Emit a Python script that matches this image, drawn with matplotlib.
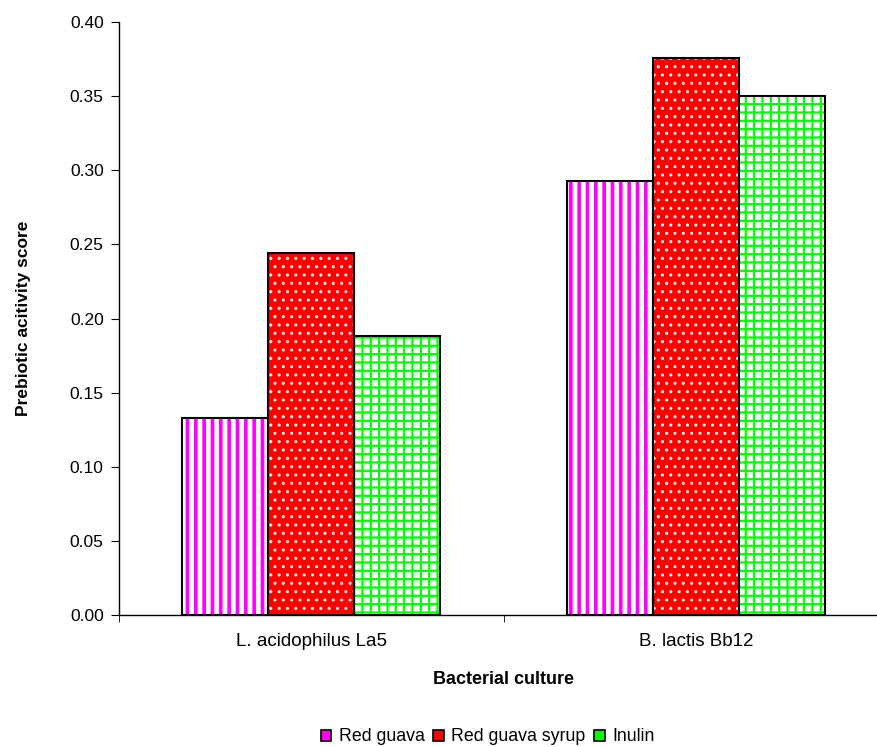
import matplotlib
matplotlib.use('Agg')
import matplotlib.pyplot as plt
from matplotlib.patches import Patch
import numpy as np

plt.rcParams['font.family'] = ['Liberation Sans', 'DejaVu Sans']

cultures = ['L. acidophilus La5', 'B. lactis Bb12']
series = ['Red guava', 'Red guava syrup', 'Inulin']
red_guava = [0.133, 0.293]
red_guava_syrup = [0.244, 0.376]
inulin = [0.188, 0.350]
yticks = [0.00, 0.05, 0.10, 0.15, 0.20, 0.25, 0.30, 0.35, 0.40]

# fill colour, hatch, hatch colour, hatch linewidth, legend colour
styles = [
    ('white', '||', '#ff00ff', 2.6, '#ff00ff'),
    ('#ff0000', '..', 'white', 1.0, '#ff0000'),
    ('white', '++', '#00ff00', 1.6, '#00ff00'),
]

fig = plt.figure(figsize=(8.77, 7.47), dpi=100)
ax = fig.add_axes([0.1357, 0.1767, 0.877, 0.7938])

x = np.arange(len(cultures))
w = 0.2237
for i, (vals, (fc, hatch, hc, hlw, _)) in enumerate(
        zip([red_guava, red_guava_syrup, inulin], styles)):
    pos = x + (i - 1) * w
    with plt.rc_context({'hatch.linewidth': hlw}):
        ax.bar(pos, vals, w, color=fc, hatch=hatch, edgecolor=hc, linewidth=0)
    ax.bar(pos, vals, w, fill=False, edgecolor='black', linewidth=1.5)

ax.set_xlim(-0.5, 1.5)
ax.set_ylim(0, 0.40)
ax.set_yticks(yticks)
ax.set_yticklabels([f'{v:.2f}' for v in yticks])
ax.set_xticks(x)
ax.set_xticklabels(cultures)
ax.set_xticks([-0.5, 0.5, 1.5], minor=True)
ax.tick_params(axis='x', which='major', length=0, pad=13, labelsize=13.5)
ax.tick_params(axis='x', which='minor', length=5, direction='out')
ax.tick_params(axis='y', length=6, direction='out', labelsize=12.5, pad=5)

for s in ('top', 'right'):
    ax.spines[s].set_visible(False)
for s in ('left', 'bottom'):
    ax.spines[s].set_linewidth(1.0)

ax.set_xlabel('Bacterial culture', fontweight='bold', fontsize=13, labelpad=15)
ax.set_ylabel('Prebiotic acitivity score', fontweight='bold', fontsize=12.5,
              labelpad=28)

handles = [Patch(facecolor=lc, edgecolor='black', linewidth=1.2)
           for fc, hatch, hc, hlw, lc in styles]
fig.legend(handles, series, loc='center', bbox_to_anchor=(0.556, 0.0134),
           ncol=3, frameon=False, fontsize=12.8, handlelength=0.6,
           handleheight=0.6, handletextpad=0.4, columnspacing=0.5)

fig.savefig('out.png', dpi=100)
